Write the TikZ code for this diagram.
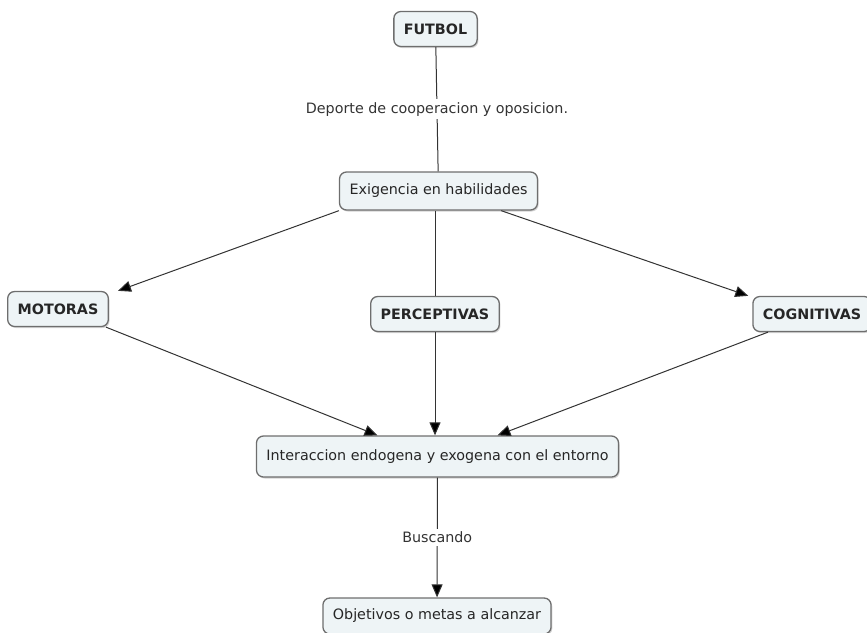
\documentclass[tikz,border=0pt]{standalone}
\usepackage{fontspec}
\setmainfont{DejaVu Sans}
\usepackage{tikz}
\usetikzlibrary{positioning,arrows.meta,shadows}

\definecolor{boxfill}{HTML}{EEF4F6}
\definecolor{boxline}{HTML}{6E6E6E}
\definecolor{linkgray}{HTML}{333333}

\begin{document}
\begin{tikzpicture}[x=1pt, y=-1pt,
    every node/.style={font=\fontsize{14.3}{17}\selectfont, text=black!85},
    concept/.style={draw=boxline, line width=1.3pt, fill=boxfill, rounded corners=7pt,
        inner xsep=10pt, inner ysep=0pt, minimum height=35pt,
        drop shadow={shadow xshift=1.2pt, shadow yshift=-1.5pt, opacity=0.35}},
    key/.style={concept, font=\fontsize{14.3}{17}\selectfont\bfseries},
    link/.style={draw=linkgray, line width=1pt},
    arrow/.style={link, -{Triangle[length=13pt, width=11pt, fill=black]}},
    phrase/.style={fill=white, inner sep=3pt, text=black!80}]
    \useasboundingbox (0,0) rectangle (867,632);

    % Top - main concept
    \node[key] (futbol) at (435.5, 29) {FUTBOL};
    \node[concept, minimum height=38pt] (exig) at (438.5, 191) {Exigencia en habilidades};
    \draw[link] (futbol) -- node[phrase] {Deporte de cooperacion y oposicion.} (exig);

    % Middle row - skills
    \node[key] (motoras) at (58, 309) {MOTORAS};
    \node[key] (percep) at (435, 314) {PERCEPTIVAS};
    \node[key] (cognit) at (812, 314) {COGNITIVAS};

    \draw[arrow] (exig.south west) -- ([xshift=9pt]motoras.north east);
    \draw[link] (percep.north |- exig.south) -- (percep.north);
    \draw[arrow] ([xshift=-37pt]exig.south east) -- ([xshift=-4pt]cognit.north west);

    % Bottom
    \node[concept, minimum height=41pt] (inter) at (437.5, 456.5) {Interaccion endogena y exogena con el entorno};
    \node[concept, minimum height=36pt] (obj) at (437, 616) {Objetivos o metas a alcanzar};

    \draw[arrow] ([xshift=-3pt]motoras.south east) -- ([xshift=-60pt]inter.north);
    \draw[arrow] (percep.south) -- (percep.south |- inter.north);
    \draw[arrow] ([xshift=-44pt]cognit.south) -- ([xshift=60pt]inter.north);
    \draw[arrow] (inter) -- node[phrase] {Buscando} (obj);
\end{tikzpicture}
\end{document}
